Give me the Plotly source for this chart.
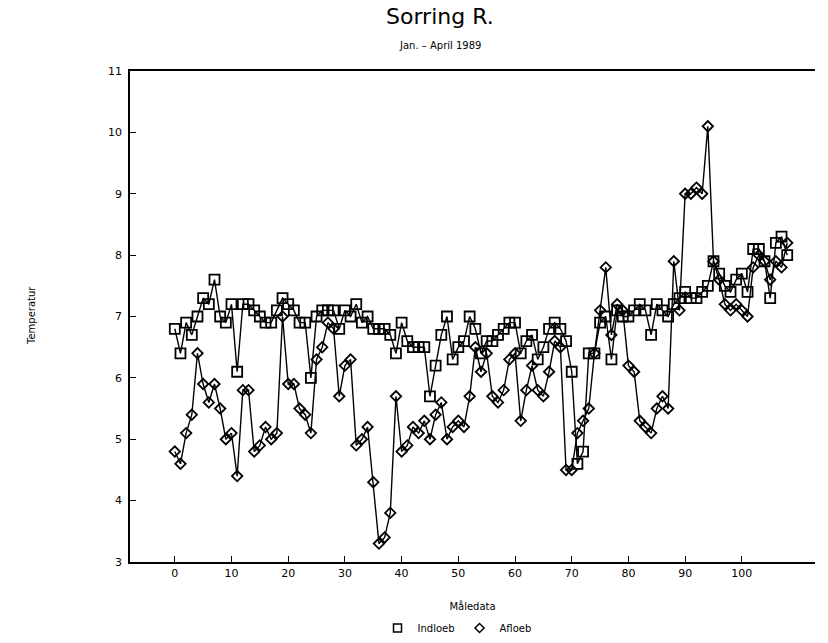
import plotly.graph_objects as go

x_idx = list(range(109))

indloeb = [6.8, 6.4, 6.9, 6.7, 7.0, 7.3, 7.2, 7.6, 7.0, 6.9,
           7.2, 6.1, 7.2, 7.2, 7.1, 7.0, 6.9, 6.9, 7.1, 7.3,
           7.2, 7.1, 6.9, 6.9, 6.0, 7.0, 7.1, 7.1, 7.1, 6.8,
           7.1, 7.0, 7.2, 6.9, 7.0, 6.8, 6.8, 6.8, 6.7, 6.4,
           6.9, 6.6, 6.5, 6.5, 6.5, 5.7, 6.2, 6.7, 7.0, 6.3,
           6.5, 6.6, 7.0, 6.8, 6.4, 6.6, 6.6, 6.7, 6.8, 6.9,
           6.9, 6.4, 6.6, 6.7, 6.3, 6.5, 6.8, 6.9, 6.8, 6.6,
           6.1, 4.6, 4.8, 6.4, 6.4, 6.9, 7.0, 6.3, 7.1, 7.0,
           7.0, 7.1, 7.2, 7.1, 6.7, 7.2, 7.1, 7.0, 7.2, 7.3,
           7.4, 7.3, 7.3, 7.4, 7.5, 7.9, 7.7, 7.5, 7.4, 7.6,
           7.7, 7.4, 8.1, 8.1, 7.9, 7.3, 8.2, 8.3, 8.0]

afloeb = [4.8, 4.6, 5.1, 5.4, 6.4, 5.9, 5.6, 5.9, 5.5, 5.0,
          5.1, 4.4, 5.8, 5.8, 4.8, 4.9, 5.2, 5.0, 5.1, 7.0,
          5.9, 5.9, 5.5, 5.4, 5.1, 6.3, 6.5, 6.9, 6.8, 5.7,
          6.2, 6.3, 4.9, 5.0, 5.2, 4.3, 3.3, 3.4, 3.8, 5.7,
          4.8, 4.9, 5.2, 5.1, 5.3, 5.0, 5.4, 5.6, 5.0, 5.2,
          5.3, 5.2, 5.7, 6.5, 6.1, 6.4, 5.7, 5.6, 5.8, 6.3,
          6.4, 5.3, 5.8, 6.2, 5.8, 5.7, 6.1, 6.6, 6.5, 4.5,
          4.5, 5.1, 5.3, 5.5, 6.4, 7.1, 7.8, 6.7, 7.2, 7.1,
          6.2, 6.1, 5.3, 5.2, 5.1, 5.5, 5.7, 5.5, 7.9, 7.1,
          9.0, 9.0, 9.1, 9.0, 10.1, 7.9, 7.6, 7.2, 7.1, 7.2,
          7.1, 7.0, 7.8, 8.0, 7.9, 7.6, 7.9, 7.8, 8.2]

x_ticks = [0, 10, 20, 30, 40, 50, 60, 70, 80, 90, 100]
y_ticks = [3, 4, 5, 6, 7, 8, 9, 10, 11]

title_text = "Sorring R."
subtitle_text = "Jan. – April 1989"
x_title = "Måledata"
y_title = "Temperatur"
series_names = ["Indloeb", "Afloeb"]

font_family = "DejaVu Sans"

# plot area on the page: x 130..815, y 71..562 (body margin removed below)
PL, PR, PT, PB = 130, 815, 71, 562
FIG_W, FIG_H = 828, 643

fig = go.Figure()
fig.add_trace(go.Scatter(
    x=x_idx, y=indloeb, mode="lines+markers", showlegend=False,
    line=dict(color="black", width=1.4),
    marker=dict(symbol="square-open", size=10, color="black", line=dict(width=1.8)),
))
fig.add_trace(go.Scatter(
    x=x_idx, y=afloeb, mode="lines+markers", showlegend=False,
    line=dict(color="black", width=1.4),
    marker=dict(symbol="diamond-open", size=8, color="black", line=dict(width=1.8)),
))
# legend entries (marker only, as in the reference)
fig.add_trace(go.Scatter(
    x=[None], y=[None], mode="markers", name=series_names[0],
    marker=dict(symbol="square-open", size=8, color="black", line=dict(width=1.5)),
))
fig.add_trace(go.Scatter(
    x=[None], y=[None], mode="markers", name=series_names[1],
    marker=dict(symbol="diamond-open", size=7, color="black", line=dict(width=1.5)),
))


def px_to_paper(px, py):
    return (px - PL) / (PR - PL), (PB - py) / (PB - PT)


annos = [
    dict(text=title_text, x=440, y=16, font=dict(size=22)),
    dict(text=subtitle_text, x=440, y=45, font=dict(size=10)),
    dict(text=y_title, x=31, y=316, font=dict(size=10), textangle=-90),
]
annotations = []
for a in annos:
    xp, yp = px_to_paper(a["x"], a["y"])
    d = dict(text=a["text"], x=xp, y=yp, xref="paper", yref="paper",
             xanchor="center", yanchor="middle", showarrow=False,
             font=dict(family=font_family, color="black", **a["font"]))
    if "textangle" in a:
        d["textangle"] = a["textangle"]
    annotations.append(d)

leg_x, leg_y = px_to_paper(457, 628)

fig.update_layout(
    width=FIG_W, height=FIG_H,
    margin=dict(l=PL, r=FIG_W - PR, t=PT, b=FIG_H - PB, autoexpand=False),
    paper_bgcolor="white", plot_bgcolor="white",
    font=dict(family=font_family, color="black", size=11),
    annotations=annotations,
    hovermode=False,
    legend=dict(
        orientation="h", x=leg_x, xanchor="center", y=leg_y, yanchor="middle",
        font=dict(size=10, family=font_family), itemwidth=30,
        bgcolor="rgba(0,0,0,0)",
    ),
    xaxis=dict(
        range=[-7.9, 112.9], tickvals=x_ticks, ticktext=[str(v) for v in x_ticks],
        showline=True, mirror=True, linecolor="black", linewidth=1.5,
        ticks="inside", ticklen=6, tickcolor="black", showgrid=False, zeroline=False,
        automargin=False,
        title=dict(text=x_title, font=dict(size=10), standoff=24),
    ),
    yaxis=dict(
        range=[3, 11], tickvals=y_ticks, ticktext=[str(v) for v in y_ticks],
        showline=True, linecolor="black", linewidth=1.5,
        ticks="inside", ticklen=6, tickcolor="black", showgrid=False, zeroline=False,
        automargin=False, ticklabelstandoff=4,
    ),
)

fig.write_html("out.html", config={"displayModeBar": False},
               post_script="document.body.style.margin='0';")
